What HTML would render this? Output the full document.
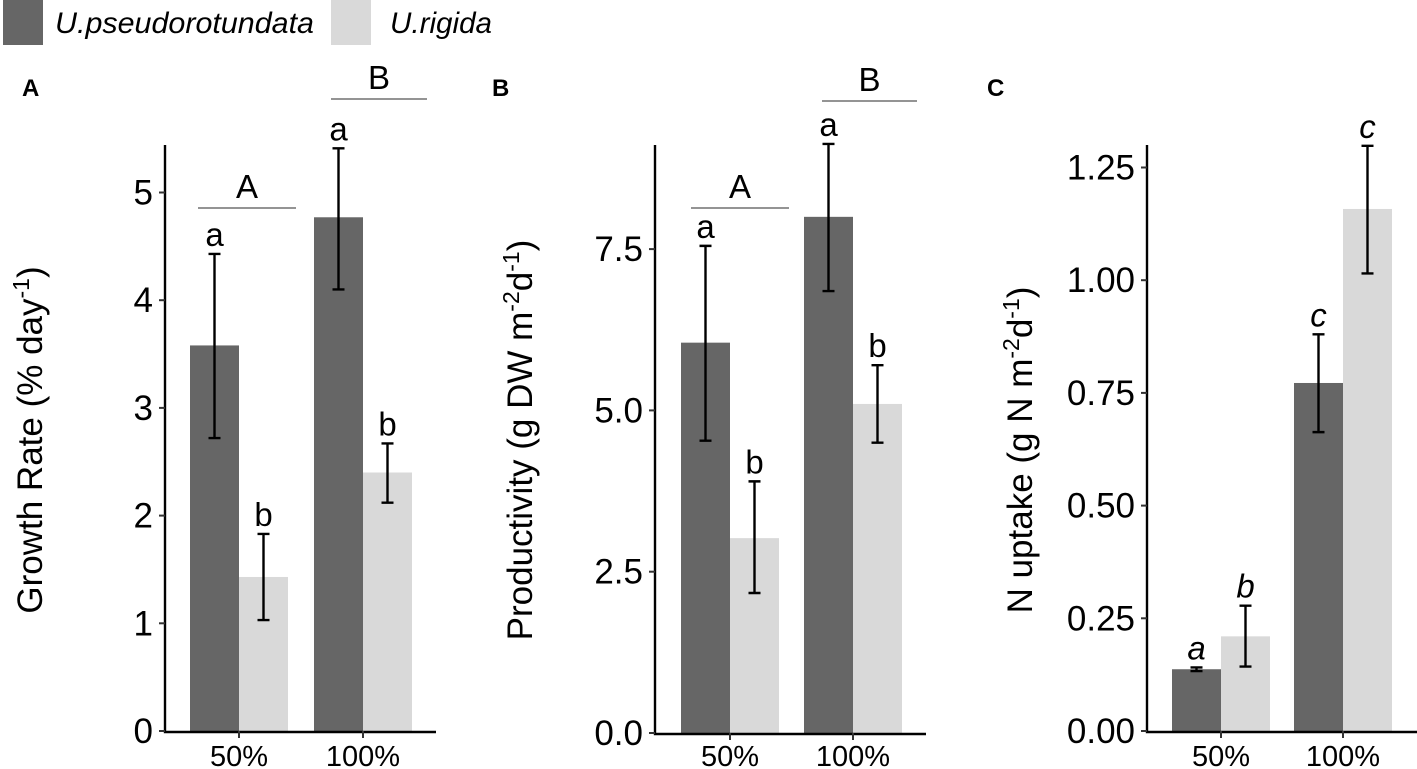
<!DOCTYPE html>
<html><head><meta charset="utf-8"><style>
html,body{margin:0;padding:0;background:#fff;}
svg{display:block;font-family:"Liberation Sans",Arial,sans-serif;}
</style></head><body>
<svg id="chart" width="1417" height="769" viewBox="0 0 1417 769"></svg>
<script>
const groups = ["50%", "100%"];
const growthMeans = [3.58, 1.43, 4.77, 2.40];
const growthLo = [2.72, 1.03, 4.10, 2.12];
const growthHi = [4.43, 1.83, 5.41, 2.67];
const growthLetters = ["a", "b", "a", "b"];
const growthTicks = [0, 1, 2, 3, 4, 5];
const growthTickLabels = ["0", "1", "2", "3", "4", "5"];
const prodMeans = [6.05, 3.02, 8.00, 5.10];
const prodLo = [4.53, 2.17, 6.85, 4.50];
const prodHi = [7.55, 3.90, 9.13, 5.70];
const prodLetters = ["a", "b", "a", "b"];
const prodTicks = [0, 2.5, 5, 7.5];
const prodTickLabels = ["0.0", "2.5", "5.0", "7.5"];
const nMeans = [0.137, 0.210, 0.772, 1.158];
const nLo = [0.133, 0.143, 0.663, 1.015];
const nHi = [0.141, 0.278, 0.880, 1.298];
const nLetters = ["a", "b", "c", "c"];
const nTicks = [0, 0.25, 0.5, 0.75, 1.0, 1.25];
const nTickLabels = ["0.00", "0.25", "0.50", "0.75", "1.00", "1.25"];

const NS = "http://www.w3.org/2000/svg";
const svg = document.getElementById("chart");
function mk(tag, attrs, parent, text) {
  const e = document.createElementNS(NS, tag);
  for (const k in attrs) e.setAttribute(k, attrs[k]);
  if (text !== undefined) e.textContent = text;
  (parent || svg).appendChild(e);
  return e;
}
const DARK = "#666666", LIGHT = "#d9d9d9";

const lg = mk("g", {});


const l1 = mk("rect", {x: 3, y: 0, width: 40, height: 45, fill: DARK}, lg);


const t1 = mk("text", {x: 55, y: 33, "font-size": 30, "font-style": "italic", fill: "#000", textLength: 259, lengthAdjust: "spacingAndGlyphs"}, lg, "U.pseudorotundata");


const l2 = mk("rect", {x: 331, y: 0, width: 40, height: 45, fill: LIGHT}, lg);


const t2 = mk("text", {x: 390, y: 33, "font-size": 30, "font-style": "italic", fill: "#000", textLength: 102, lengthAdjust: "spacingAndGlyphs"}, lg, "U.rigida");



function panel(cfg) {
  const g = mk("g", {});
  
  
  const y = v => cfg.y0 - (v / cfg.unit) * cfg.pxPerUnit;
  const barW = cfg.barW;
  const xs = [];
  groups.forEach((gname, gi) => {
    const c = cfg.gx[gi];
    xs.push(c - barW / 2, c + barW / 2);
  });
  cfg.means.forEach((m, i) => {
    const cx = xs[i];
    const r = mk("rect", {x: cx - barW / 2, y: y(m), width: barW, height: cfg.y0 - y(m), fill: i % 2 === 0 ? DARK : LIGHT}, g);
    
    
  });
  cfg.means.forEach((m, i) => {
    const cx = xs[i];
    const eb = mk("path", {d: `M${cx - 6},${y(cfg.hi[i])}H${cx + 6}M${cx},${y(cfg.hi[i])}V${y(cfg.lo[i])}M${cx - 6},${y(cfg.lo[i])}H${cx + 6}`, stroke: "#000", "stroke-width": 2.4, fill: "none"}, g);
    
    
    const lt = mk("text", {x: cx, y: y(cfg.hi[i]) - 8, "font-size": 33, "text-anchor": "middle", "font-style": cfg.italic ? "italic" : "normal"}, g, cfg.letters[i]);
    
    
  });
  const ax = mk("path", {d: `M${cfg.ax},145V${cfg.y0 + 1}H${cfg.xEnd}`, stroke: "#000", "stroke-width": 2.4, fill: "none"}, g);
  
  
  cfg.ticks.forEach((tv, i) => {
    const ty = y(tv);
    const tk = mk("line", {x1: cfg.ax - 6, x2: cfg.ax, y1: ty, y2: ty, stroke: "#333", "stroke-width": 2}, g);
    
    
    const tl = mk("text", {x: cfg.ax - 12, y: ty + 12, "font-size": 35, "text-anchor": "end"}, g, cfg.tickLabels[i]);
    
    
  });
  groups.forEach((gname, gi) => {
    const c = cfg.gx[gi];
    const tk = mk("line", {x1: c, x2: c, y1: cfg.y0, y2: cfg.y0 + 7, stroke: "#333", "stroke-width": 2}, g);
    
    
    const tl = mk("text", {x: c, y: 766, "font-size": 29, "text-anchor": "middle"}, g, gname);
    
    
  });
  const pl = mk("text", {x: cfg.plx, y: 96, "font-size": 24, "font-weight": "bold"}, g, cfg.id);
  
  
  const yt = mk("text", {transform: `translate(${cfg.titleX},${cfg.titleY}) rotate(-90)`, "font-size": 35, "text-anchor": "middle"}, g);
  
  
  cfg.title(yt);
  (cfg.brackets || []).forEach(b => {
    const ln = mk("line", {x1: b.x1, x2: b.x2, y1: b.y, y2: b.y, stroke: "#555", "stroke-width": 1.2}, g);
    
    
    const bt = mk("text", {x: (b.x1 + b.x2) / 2, y: b.y - 10, "font-size": 33, "text-anchor": "middle"}, g, b.t);
    
    
  });
}
function sup(parent, txt) {
  return mk("tspan", {"baseline-shift": "super", "font-size": 23}, parent, txt);
}

panel({id: "A", y0: 731, unit: 1, pxPerUnit: 107.7, barW: 49, gx: [239, 363], ax: 165, xEnd: 436,
  means: growthMeans, lo: growthLo, hi: growthHi, letters: growthLetters, ticks: growthTicks, tickLabels: growthTickLabels,
  plx: 22, titleX: 42, titleY: 440,
  brackets: [{x1: 198, x2: 296, y: 208, t: "A"}, {x1: 331, x2: 427, y: 99, t: "B"}],
  title: t => { mk("tspan", {}, t, "Growth Rate (% day"); sup(t, "-1"); mk("tspan", {}, t, ")"); }});
panel({id: "B", y0: 733, unit: 2.5, pxPerUnit: 161.3, barW: 49, gx: [730, 853], ax: 655, xEnd: 926,
  means: prodMeans, lo: prodLo, hi: prodHi, letters: prodLetters, ticks: prodTicks, tickLabels: prodTickLabels,
  plx: 492, titleX: 532, titleY: 440,
  brackets: [{x1: 691, x2: 789, y: 208, t: "A"}, {x1: 822, x2: 917, y: 101, t: "B"}],
  title: t => { mk("tspan", {}, t, "Productivity (g DW m"); sup(t, "-2"); mk("tspan", {}, t, "d"); sup(t, "-1"); mk("tspan", {}, t, ")"); }});
panel({id: "C", y0: 731, unit: 0.25, pxPerUnit: 112.7, barW: 49, gx: [1221, 1343], ax: 1147, xEnd: 1417, italic: true,
  means: nMeans, lo: nLo, hi: nHi, letters: nLetters, ticks: nTicks, tickLabels: nTickLabels,
  plx: 987, titleX: 1032, titleY: 450,
  title: t => { mk("tspan", {}, t, "N uptake (g N m"); sup(t, "-2"); mk("tspan", {}, t, "d"); sup(t, "-1"); mk("tspan", {}, t, ")"); }});
</script>
</body></html>
